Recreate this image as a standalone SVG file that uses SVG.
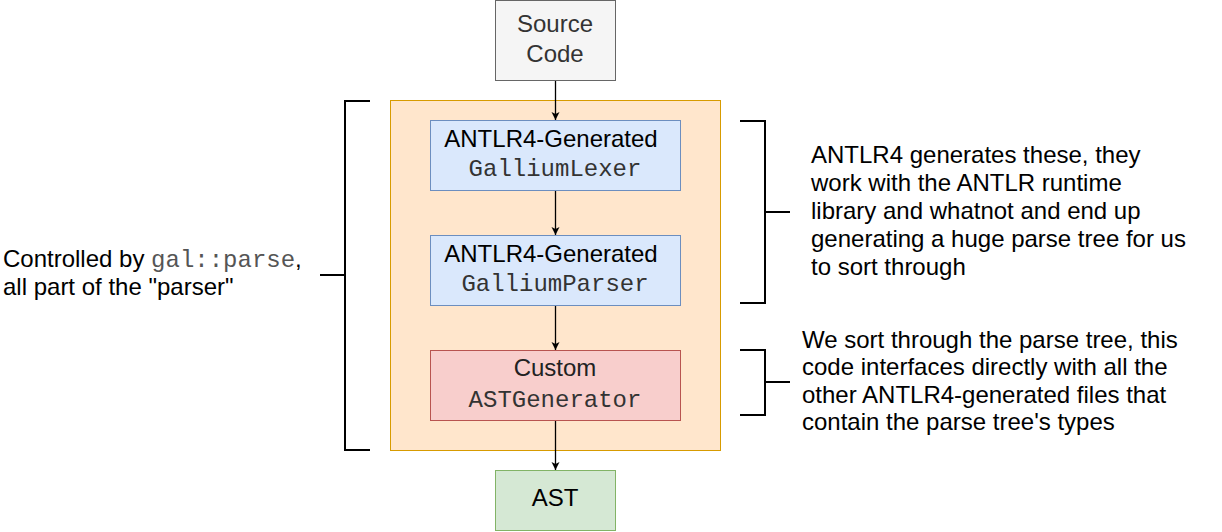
<svg xmlns="http://www.w3.org/2000/svg" width="1222" height="532" viewBox="0 0 1222 532">
<style>
.t{font-family:"Liberation Sans",Arial,sans-serif;font-size:24px;fill:#000}
.m{font-family:"Liberation Mono","Courier New",monospace;font-size:24px;fill:#333}
.c{text-anchor:middle}
.br{fill:none;stroke:#000;stroke-width:2}
.e{fill:none;stroke:#000;stroke-width:1.3}
</style>
<defs>
<marker id="ah" markerWidth="10" markerHeight="10" refX="8" refY="4" orient="auto" markerUnits="userSpaceOnUse">
<path d="M0,0 L8,4 L0,8 L2,4 z" fill="#000"/>
</marker>
</defs>
<g id="container"><rect x="390.5" y="100.5" width="330" height="350" fill="#ffe6cc" stroke="#d79b00"/></g>
<g id="source"><rect x="495.5" y="0.5" width="120" height="80" fill="#f5f5f5" stroke="#666666"/>
<text class="t c" x="555" y="32" style="fill:#333">Source</text><text class="t c" x="555" y="62" style="fill:#333">Code</text></g>
<g id="lexer"><rect x="430.5" y="120.5" width="250" height="70" fill="#dae8fc" stroke="#6c8ebf"/>
<text class="t c" x="551" y="147">ANTLR4-Generated</text><text class="m c" x="555" y="176">GalliumLexer</text></g>
<g id="parser"><rect x="430.5" y="235.5" width="250" height="70" fill="#dae8fc" stroke="#6c8ebf"/>
<text class="t c" x="551" y="262">ANTLR4-Generated</text><text class="m c" x="555" y="291">GalliumParser</text></g>
<g id="astgen"><rect x="430.5" y="350.5" width="250" height="70" fill="#f8cecc" stroke="#b85450"/>
<text class="t c" x="555" y="376" style="fill:#222">Custom</text><text class="m c" x="555" y="407">ASTGenerator</text></g>
<g id="ast"><rect x="495.5" y="470.5" width="120" height="60" fill="#d5e8d4" stroke="#82b366"/>
<text class="t c" x="555" y="506">AST</text></g>
<g id="connectors">
<line class="e" x1="555.5" y1="81" x2="555.5" y2="120" marker-end="url(#ah)"/>
<line class="e" x1="555.5" y1="191" x2="555.5" y2="235" marker-end="url(#ah)"/>
<line class="e" x1="555.5" y1="306" x2="555.5" y2="350" marker-end="url(#ah)"/>
<line class="e" x1="555.5" y1="421" x2="555.5" y2="470" marker-end="url(#ah)"/>
</g>
<g id="bracket-left"><path class="br" d="M370,101 H345 V450 H370 M320,275 H345"/></g>
<g id="bracket-right1"><path class="br" d="M740,121 H765 V303 H740 M765,212 H790"/></g>
<g id="bracket-right2"><path class="br" d="M740,350 H765 V415 H740 M765,382 H790"/></g>
<g id="label-left"><text class="t" x="3" y="267">Controlled by <tspan class="m" style="fill:#555">gal::parse</tspan>,</text>
<text class="t" x="3" y="295">all part of the "parser"</text></g>
<g id="label-right1">
<text class="t" x="811" y="163">ANTLR4 generates these, they</text>
<text class="t" x="811" y="191">work with the ANTLR runtime</text>
<text class="t" x="811" y="219">library and whatnot and end up</text>
<text class="t" x="811" y="247">generating a huge parse tree for us</text>
<text class="t" x="811" y="275">to sort through</text>
</g>
<g id="label-right2">
<text class="t" x="802" y="348">We sort through the parse tree, this</text>
<text class="t" x="802" y="375">code interfaces directly with all the</text>
<text class="t" x="802" y="403">other ANTLR4-generated files that</text>
<text class="t" x="802" y="430">contain the parse tree's types</text>
</g>
</svg>
